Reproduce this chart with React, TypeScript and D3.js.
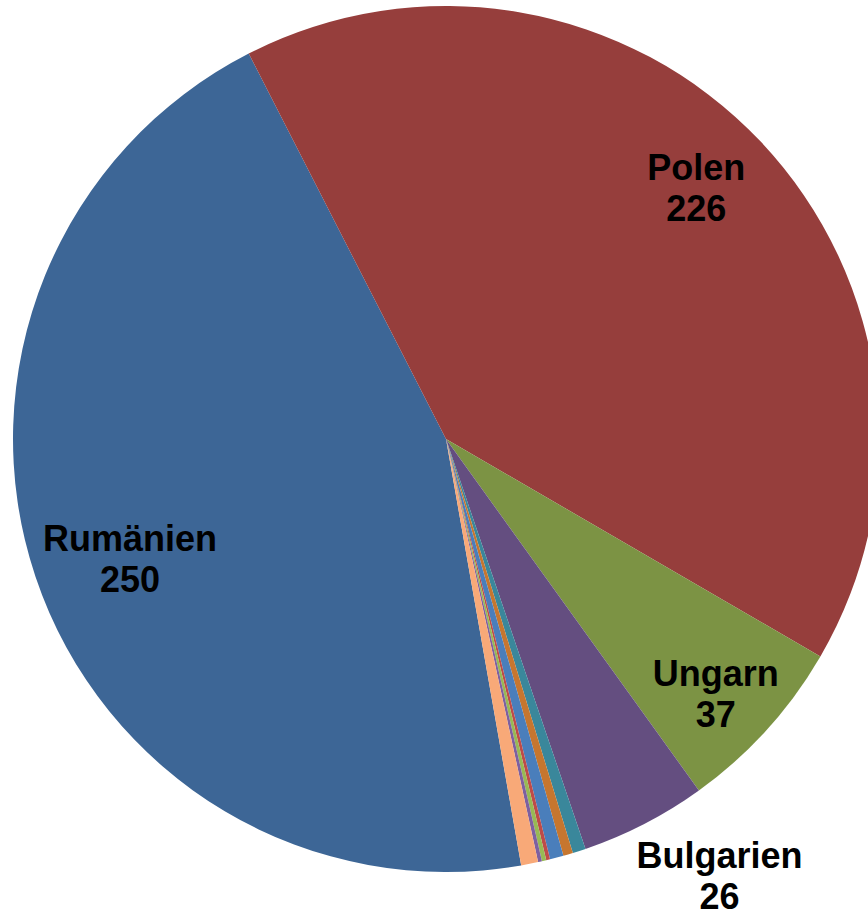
import React from "react";
import * as d3 from "d3";

const categories = ["Rumänien", "Polen", "Ungarn", "Bulgarien", "Sonst. 1", "Sonst. 2", "Sonst. 3", "Sonst. 4", "Sonst. 5", "Sonst. 6", "Sonst. 7"];
const values = [250, 226, 37, 26, 2.7, 2.0, 2.8, 0.8, 0.9, 0.8, 3.5];
const showLabel = [true, true, true, true, false, false, false, false, false, false, false];
const colors = ["#3D6696", "#963E3C", "#7C9344", "#644E80", "#3A879B", "#C6762F", "#4A7EBB", "#BE4B48", "#98B954", "#7D60A0", "#F8A978"];
// label placement: radius factor and angular nudge (degrees)
const labelRadius = [0.78, 0.82, 0.856, 1.19];
const labelNudge = [-2.1, -1.7, 1.1, -4.8];

const W = 868;
const H = 912;
const cx = 446;
const cy = 439;
const R = 433;
const startDeg = 170.0;

export default function App() {
  const data = categories.map((c, i) => ({ name: c, value: values[i], i }));
  const pie = d3
    .pie<any>()
    .value((d) => d.value)
    .sort(null)
    .startAngle((startDeg * Math.PI) / 180)
    .endAngle(((startDeg + 360) * Math.PI) / 180);
  const arcs = pie(data);
  const arc = d3.arc<any>().innerRadius(0).outerRadius(R);
  const fontSize = 36;
  const lineH = 41;
  const capH = fontSize * 0.716;

  return (
    <svg
      width={W}
      height={H}
      style={{ position: "absolute", left: 0, top: 0, background: "#fff" }}
    >
      <g transform={`translate(${cx},${cy})`}>
        {arcs.map((a, i) => (
          <path key={i} d={arc(a) as string} fill={colors[i]} />
        ))}
        {arcs.map((a, i) => {
          if (!showLabel[i]) return null;
          const mid = (a.startAngle + a.endAngle) / 2 + (labelNudge[i] * Math.PI) / 180;
          const r = R * labelRadius[i];
          const x = Math.sin(mid) * r;
          const y = -Math.cos(mid) * r;
          const b1 = y - (lineH - capH) / 2;
          return (
            <text
              key={"t" + i}
              x={x}
              textAnchor="middle"
              fontFamily="'Liberation Sans', Arial, sans-serif"
              fontWeight="bold"
              fontSize={fontSize}
              fill="#000"
            >
              <tspan x={x} y={b1}>{categories[i]}</tspan>
              <tspan x={x} y={b1 + lineH}>{String(values[i])}</tspan>
            </text>
          );
        })}
      </g>
    </svg>
  );
}
